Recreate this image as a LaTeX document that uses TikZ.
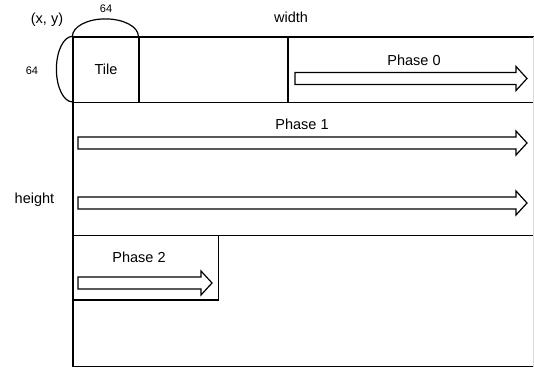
\documentclass[tikz,border=0pt]{standalone}
\usepackage{fontspec}
\setmainfont{Liberation Sans}
\usepackage{tikz}
\tikzset{ every node/.style={inner sep=0pt,font=\fontsize{14.5}{17}\selectfont},
  small/.style={font=\fontsize{11}{13}\selectfont},
  frame/.style={draw,line width=1.2pt},
  phasearrow/.style={draw,line width=1.2pt,fill=white,line join=miter}}

\begin{document}
\begin{tikzpicture}[x=1pt,y=1pt]
  \useasboundingbox (0,0) rectangle (534,369);
  % outer grid
  \draw[frame] (73,332) coordinate (tl) -- (534,332);
  \draw[frame] (73,266.5) -- (534,266.5);
  \draw[frame] (73,133.5) -- (534,133.5);
  \draw[frame] (73,2.5) -- (534,2.5);
  \draw[frame] (tl) -- (73,2.5);
  \draw[gray!30,line width=0.8pt] (533.5,332) -- (533.5,2.5);
  \draw[frame] (288,332) -- (288,266.5);

  \node[frame,rectangle,minimum width=66,minimum height=65.5] (tile) at (106,299.25) {Tile};
  \node[frame,rectangle,minimum width=145.5,minimum height=64.5] (ph2box) at (145.75,101.25) {};

  % 64 x 64 arcs
  \draw[line width=1.2pt] (tile.north west) arc[start angle=180,end angle=0,x radius=33,y radius=17.5];
  \draw[line width=1.2pt] (tile.north west) arc[start angle=90,end angle=270,x radius=16,y radius=32.75];

  \node[small] (tw) at (106,360) {64};
  \node[small] (th) at (32,298) {64};
  \node (xy) at (47,349) {(x, y)};
  \node (w) at (291,352) {width};
  \node (h) at (34.5,169) {height};

  \node (p0) at (414,309) {Phase 0};
  \node (p1) at (302,245) {Phase 1};
  \node (p2) at (139,112) {Phase 2};

  \foreach \xa/\xb/\yc in {295/527/290.5, 78/527/226, 78/527/166, 78/212/86}
    \draw[phasearrow] (\xa,\yc-6) -- (\xb-11,\yc-6) -- (\xb-11,\yc-12) -- (\xb,\yc)
      -- (\xb-11,\yc+12) -- (\xb-11,\yc+6) -- (\xa,\yc+6) -- cycle;
\end{tikzpicture}
\end{document}
